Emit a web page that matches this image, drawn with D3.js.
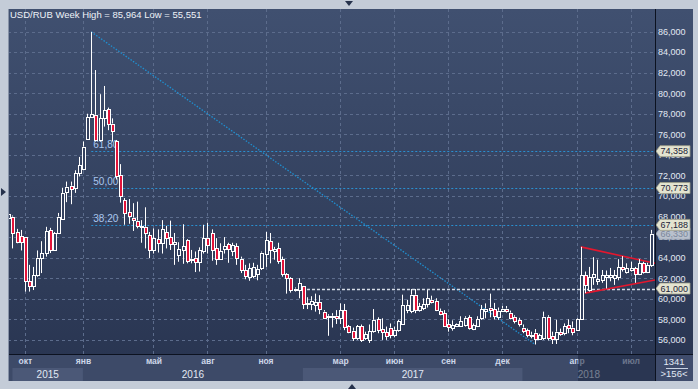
<!DOCTYPE html>
<html><head><meta charset="utf-8">
<script src="https://cdn.jsdelivr.net/npm/d3@7"></script>
<style>
html,body{margin:0;padding:0;background:#c4ccd8;overflow:hidden;}
svg{display:block;font-family:"Liberation Sans",Arial,sans-serif;}
</style></head><body>
<div id="chart"></div>
<script>
// Weekly USD/RUB candles (one entry per week, left to right).
const open = [67.9,68.0,66.5,66.1,66.0,61.7,61.2,62.3,64.0,64.5,
  66.7,64.75,66.4,67.8,70.4,71.0,70.75,72.2,72.6,75.55,
  77.7,77.9,75.4,77.55,78.45,77.05,75.3,72.05,69.6,68.45,
  67.9,67.6,66.95,67.0,66.2,64.7,65.8,65.45,66.5,66.0,
  65.3,64.3,64.7,65.7,63.8,64.0,63.55,64.6,65.95,66.4,
  64.9,63.85,64.8,65.3,64.6,65.1,63.9,62.8,62.1,62.2,
  62.4,62.95,64.35,65.6,64.65,64.9,63.85,62.4,62.0,60.85,
  60.9,61.2,59.6,59.45,59.4,59.7,58.75,58.35,58.25,58.35,
  58.1,58.9,57.35,56.9,56.15,57.35,56.15,56.0,56.85,58.0,
  57.05,56.75,57.2,56.5,56.95,57.5,58.9,58.8,60.4,58.9,
  59.15,59.5,59.9,59.8,58.8,58.6,57.5,57.2,57.4,57.4,
  57.45,58.2,57.1,57.4,58.1,58.85,59.15,59.0,58.25,58.85,
  59.05,58.65,58.25,57.95,57.2,56.95,56.5,56.7,56.1,56.15,
  58.25,56.4,56.05,56.75,56.7,57.45,57.2,57.0,58.0,62.3,
  60.9,62.1,61.75,61.8,62.1,62.1,62.0,62.1,63.05,62.6,
  62.8,62.95,62.45,63.45,62.6,63.3];
const high = [68.5,68.1,66.8,66.7,66.0,63.3,63.1,64.7,65.6,67.0,
  66.9,66.5,68.35,70.8,71.4,71.4,72.5,73.8,75.3,78.0,
  85.964,82.25,79.9,80.7,78.6,77.55,75.45,73.1,69.8,69.7,
  69.3,69.45,67.65,68.9,66.5,66.85,66.75,67.65,67.1,67.6,
  66.4,65.5,67.25,65.8,64.75,64.6,65.0,67.2,67.4,66.75,
  65.9,65.4,66.0,65.45,65.45,65.4,64.1,63.3,63.45,63.5,
  63.3,64.6,66.5,66.4,65.05,65.45,64.1,62.5,62.1,61.1,
  62.0,61.25,60.15,60.25,60.5,60.35,58.9,58.5,58.6,58.9,
  59.55,59.5,57.45,57.2,57.45,57.5,56.8,57.5,59.0,58.2,
  58.1,57.3,57.6,57.3,57.95,60.4,59.9,60.95,60.95,59.6,
  60.05,60.85,60.3,60.05,59.05,58.9,58.0,57.9,57.6,58.3,
  58.3,58.4,57.6,58.3,59.4,59.55,60.5,59.6,59.15,59.3,
  59.3,58.85,58.4,58.15,57.5,57.1,56.8,57.05,56.6,58.75,
  58.4,56.8,57.95,57.1,57.6,58.0,57.8,58.1,65.05,62.65,
  63.1,64.05,63.8,62.8,62.75,63.0,62.8,63.85,64.15,63.45,
  63.6,63.1,63.85,63.6,63.5,66.7];
const low = [67.6,64.9,65.4,64.7,60.7,60.7,60.85,62.15,62.5,64.1,
  64.45,64.7,66.4,67.7,69.4,69.2,70.3,71.9,72.5,75.45,
  77.6,75.3,75.3,76.75,76.4,75.3,71.6,69.35,67.2,67.3,
  66.6,66.85,65.45,64.9,63.95,64.4,64.5,64.4,64.9,64.75,
  63.3,63.6,63.4,63.45,63.45,62.6,62.65,64.4,64.4,63.7,
  63.3,63.8,64.4,63.5,64.15,63.3,62.5,61.9,61.75,62.0,
  61.8,62.8,63.1,63.45,63.8,63.4,62.15,60.5,60.6,60.7,
  60.05,59.0,59.0,58.9,58.75,58.5,58.1,56.4,57.2,57.55,
  57.55,56.95,56.65,55.9,56.0,55.8,56.0,55.7,56.7,56.65,
  56.0,56.0,56.15,56.25,56.8,57.45,58.6,58.6,58.6,58.75,
  58.9,59.15,59.55,58.8,58.4,57.3,56.8,56.9,57.25,57.3,
  57.3,57.0,56.95,57.25,57.95,58.1,58.2,58.0,57.95,58.75,
  58.65,58.0,57.6,57.3,56.65,56.25,56.15,55.551,56.0,56.0,
  55.95,55.6,55.6,56.4,56.45,56.65,56.45,56.95,57.95,60.55,
  60.7,61.35,61.35,61.55,61.0,61.7,61.35,61.8,62.65,62.45,
  62.65,61.55,62.3,62.45,62.5,63.1];
const close = [68.2,66.4,65.5,65.5,61.7,61.2,62.3,64.0,64.45,66.6,
  64.75,66.4,68.0,70.3,70.9,70.65,72.2,73.0,74.8,77.65,
  77.95,75.45,77.55,78.35,77.05,76.3,71.9,70.0,68.3,68.1,
  67.65,67.1,67.05,66.4,64.75,65.9,65.45,66.75,65.9,65.3,
  65.5,64.8,65.1,63.7,63.9,63.6,64.75,65.9,65.2,64.75,
  63.9,64.6,65.1,64.8,65.2,64.0,62.8,62.25,62.95,63.1,
  62.9,64.5,65.7,64.75,64.85,63.7,62.4,62.0,60.85,61.0,
  61.5,59.5,59.5,59.8,59.7,59.0,58.15,58.25,58.35,58.15,
  58.9,57.3,56.8,56.15,57.35,56.0,56.55,56.85,57.95,56.95,
  56.8,56.4,56.5,57.0,57.8,59.4,59.4,60.4,58.9,59.3,
  59.5,60.05,59.7,58.9,58.5,57.4,57.3,57.45,57.55,57.8,
  58.15,57.2,57.45,58.0,59.0,59.05,58.9,58.3,58.85,59.05,
  58.8,58.1,57.85,57.5,56.85,56.45,56.45,56.1,56.45,58.25,
  56.15,56.05,56.8,56.55,57.35,57.2,56.8,58.0,62.3,61.3,
  62.1,62.4,61.9,62.3,62.3,62.3,62.3,63.05,62.85,62.95,
  62.95,62.4,63.45,62.6,63.3,66.33];

const yTicks = d3.range(56, 87, 2);
const monthIdx = [4, 18, 35, 48, 62, 80, 93, 106, 119, 137, 150];
const monthLabels = ["окт", "янв", "май", "авг", "ноя", "мар", "июн", "сен", "дек", "апр", "июл"];
const yearLabels = ["2015", "2016", "2017", "2018"];
const yearStart = [1, 18, 71, 124];
const fibLevels = [74.358, 70.773, 67.188];
const fibLabels = ["61,80", "50,00", "38,20"];
const trendFrom = [20, 85.964], trendTo = [127, 55.551];
const support = 61.0, supportFrom = 72;
const triUpper = [[138, 65.05], [155.9, 63.45]];
const triLower = [[139, 60.55], [155.9, 61.83]];
const lastClose = 66.33;
const barCount = "1341", visibleBars = ">156<";

const W = 698, H = 389;
const L = 8, T = 9, R = 655, B = 354, FR = 693, FB = 381;
const fmt = (v) => v.toFixed(3).replace(".", ",");

const svg = d3.select("#chart").append("svg").attr("width", W).attr("height", H);
const defs = svg.append("defs");
const grad = defs.append("linearGradient").attr("id", "bg").attr("x1", 0).attr("y1", 0).attr("x2", 0).attr("y2", 1);
grad.append("stop").attr("offset", "0%").attr("stop-color", "#405070");
grad.append("stop").attr("offset", "100%").attr("stop-color", "#283450");
defs.append("clipPath").attr("id", "plot").append("rect").attr("x", L).attr("y", T).attr("width", R - L).attr("height", B - T);

// frame
svg.append("rect").attr("width", W).attr("height", H).attr("fill", "#c4ccd8");
svg.append("rect").attr("x", L).attr("y", T).attr("width", FR - L).attr("height", FB - T).attr("fill", "url(#bg)");
svg.append("path").attr("d", "M345,1 L353,1 L349,6 Z").attr("fill", "#26324c");
svg.append("path").attr("d", "M1,188 L1,196 L6,192 Z").attr("fill", "#26324c");
svg.append("path").attr("d", "M348,389 L356,389 L352,384 Z").attr("fill", "#26324c");

const x = d3.scaleLinear().domain([0, 155]).range([8.3, 651.3]);
const y = d3.scaleLinear().domain([56, 86]).range([339.9, 31.5]);
const px = (i) => Math.round(x(i)) + 0.5;
const py = (v) => Math.round(y(v)) + 0.5;

// grid
const grid = svg.append("g").attr("stroke", "#5c6c8c").attr("stroke-dasharray", "3,3").attr("stroke-width", 1);
grid.selectAll("line.h").data(yTicks).join("line")
  .attr("x1", L).attr("x2", R).attr("y1", (d) => py(d)).attr("y2", (d) => py(d));
grid.selectAll("line.v").data(monthIdx).join("line")
  .attr("y1", T).attr("y2", B).attr("x1", (d) => px(d)).attr("x2", (d) => px(d));

const plot = svg.append("g").attr("clip-path", "url(#plot)");

// Fibonacci retracement levels
plot.selectAll("line.fib").data(fibLevels).join("line")
  .attr("x1", x(trendFrom[0])).attr("x2", R).attr("y1", (d) => py(d)).attr("y2", (d) => py(d))
  .attr("stroke", "#2a8fd0").attr("stroke-dasharray", "2,2");
plot.selectAll("text.fib").data(fibLevels).join("text")
  .attr("x", x(trendFrom[0]) + 2).attr("y", (d) => y(d) - 3)
  .attr("font-size", 10).attr("fill", "#a9c6ee").text((d, i) => fibLabels[i]);

// trend line from the high to the low
plot.append("line")
  .attr("x1", x(trendFrom[0])).attr("y1", y(trendFrom[1]))
  .attr("x2", x(trendTo[0])).attr("y2", y(trendTo[1]))
  .attr("stroke", "#1f8fd0").attr("stroke-width", 1.3).attr("stroke-dasharray", "1.5,1.5");

// support level
plot.append("line").attr("x1", x(supportFrom)).attr("x2", R).attr("y1", py(support)).attr("y2", py(support))
  .attr("stroke", "#d6dde8").attr("stroke-width", 1.6).attr("stroke-dasharray", "3,2");

// triangle
const tri = d3.line().x((d) => x(d[0])).y((d) => y(d[1]));
[triUpper, triLower].forEach((seg) => plot.append("path").attr("d", tri(seg))
  .attr("fill", "none").attr("stroke", "#e3172e").attr("stroke-width", 1.6));

// candles
const candles = open.map((o, i) => ({ i, o, h: high[i], l: low[i], c: close[i] }));
const cg = plot.append("g").selectAll("g").data(candles).join("g");
cg.append("line").attr("stroke", "#fff")
  .attr("x1", (d) => px(d.i)).attr("x2", (d) => px(d.i))
  .attr("y1", (d) => y(d.h)).attr("y2", (d) => y(Math.max(d.o, d.c)));
cg.append("line").attr("stroke", "#fff")
  .attr("x1", (d) => px(d.i)).attr("x2", (d) => px(d.i))
  .attr("y1", (d) => y(Math.min(d.o, d.c))).attr("y2", (d) => y(d.l));
cg.append("rect")
  .attr("x", (d) => px(d.i) - 1).attr("width", 3)
  .attr("y", (d) => Math.round(y(Math.max(d.o, d.c))) + 0.5)
  .attr("height", (d) => Math.max(1, Math.round(y(Math.min(d.o, d.c))) - Math.round(y(Math.max(d.o, d.c)))))
  .attr("fill", (d) => (d.c >= d.o ? "#34415f" : "#e3143a"))
  .attr("stroke", "#fff").attr("stroke-width", 1);

// bottom axis area
svg.append("rect").attr("x", L).attr("y", B).attr("width", R - L).attr("height", FB - B).attr("fill", "#3d4a68");
const yearEnd = yearStart.slice(1).map((s) => x(s)).concat([R]);
svg.selectAll("rect.year").data(yearLabels).join("rect")
  .attr("x", (d, i) => x(yearStart[i])).attr("y", 368)
  .attr("width", (d, i) => yearEnd[i] - x(yearStart[i])).attr("height", FB - 368)
  .attr("fill", (d, i) => (i % 2 === 0 ? "#4b5877" : "#3d4a68"));
svg.selectAll("text.year").data(yearLabels).join("text")
  .attr("x", (d, i) => (x(yearStart[i]) + yearEnd[i]) / 2).attr("y", 378)
  .attr("text-anchor", "middle").attr("font-size", 10).attr("fill", "#e2e9f4").text((d) => d);

const xAxis = svg.append("g").attr("transform", `translate(0,${B})`)
  .call(d3.axisBottom(x).tickValues(monthIdx).tickSize(0).tickPadding(8)
    .tickFormat((d, i) => monthLabels[i]));
xAxis.select(".domain").remove();
xAxis.selectAll("text").attr("font-size", 8.5).attr("font-weight", "bold")
  .attr("fill", "#cdd7e8").attr("font-family", "Liberation Sans, Arial, sans-serif").attr("dy", "0.2em");

// dimmed navigator region on the right of the time axis
svg.append("rect").attr("x", 578).attr("y", B).attr("width", R - 578).attr("height", FB - B)
  .attr("fill", "#1c2740").attr("opacity", 0.55);

// right price axis
const yAxis = svg.append("g").attr("transform", `translate(${R + 2},0)`)
  .call(d3.axisRight(y).tickValues(yTicks).tickSize(0).tickPadding(1).tickFormat(fmt));
yAxis.select(".domain").remove();
yAxis.selectAll("text").attr("font-size", 9).attr("fill", "#e2e9f4")
  .attr("font-family", "Liberation Sans, Arial, sans-serif");

// price markers
function marker(v, fill, ink, stroke) {
  const cy = y(v), x0 = R + 1, x1 = 690;
  svg.append("path")
    .attr("d", `M${x0},${cy} L${x0 + 4},${cy - 5.5} L${x1},${cy - 5.5} L${x1},${cy + 5.5} L${x0 + 4},${cy + 5.5} Z`)
    .attr("fill", fill).attr("stroke", stroke).attr("stroke-width", 0.8);
  svg.append("text").attr("x", x0 + 4.5).attr("y", cy + 3.3).attr("font-size", 9)
    .attr("fill", ink).text(fmt(v));
}
marker(lastClose, "#b9c1cd", "#7b879b", "#9aa4b4");
fibLevels.forEach((v) => marker(v, "#e4e4d0", "#1b2138", "#9d9d88"));
marker(support, "#e4e4d0", "#1b2138", "#9d9d88");

// counter box
svg.append("rect").attr("x", R).attr("y", B).attr("width", FR - R).attr("height", FB - B).attr("fill", "#3f4c6c");
svg.append("text").attr("x", 674).attr("y", 365).attr("text-anchor", "middle").attr("font-size", 9.5)
  .attr("fill", "#e2e9f4").text(barCount);
svg.append("line").attr("x1", 666).attr("x2", 688).attr("y1", 368.5).attr("y2", 368.5).attr("stroke", "#c8d2e2");
svg.append("text").attr("x", 674).attr("y", 377).attr("text-anchor", "middle").attr("font-size", 9.5)
  .attr("fill", "#e2e9f4").text(visibleBars);

// separators
svg.append("line").attr("x1", L).attr("x2", FR).attr("y1", B + 0.5).attr("y2", B + 0.5).attr("stroke", "#0c1220");
svg.append("line").attr("x1", R + 0.5).attr("x2", R + 0.5).attr("y1", T).attr("y2", FB).attr("stroke", "#0c1220");
svg.append("line").attr("x1", L + 0.5).attr("x2", L + 0.5).attr("y1", T).attr("y2", FB).attr("stroke", "#8893a8");

// title
svg.append("text").attr("x", 10).attr("y", 18).attr("font-size", 9.5).attr("fill", "#eef2f8")
  .text("USD/RUB Week High = 85,964 Low = 55,551");
</script>
</body></html>
